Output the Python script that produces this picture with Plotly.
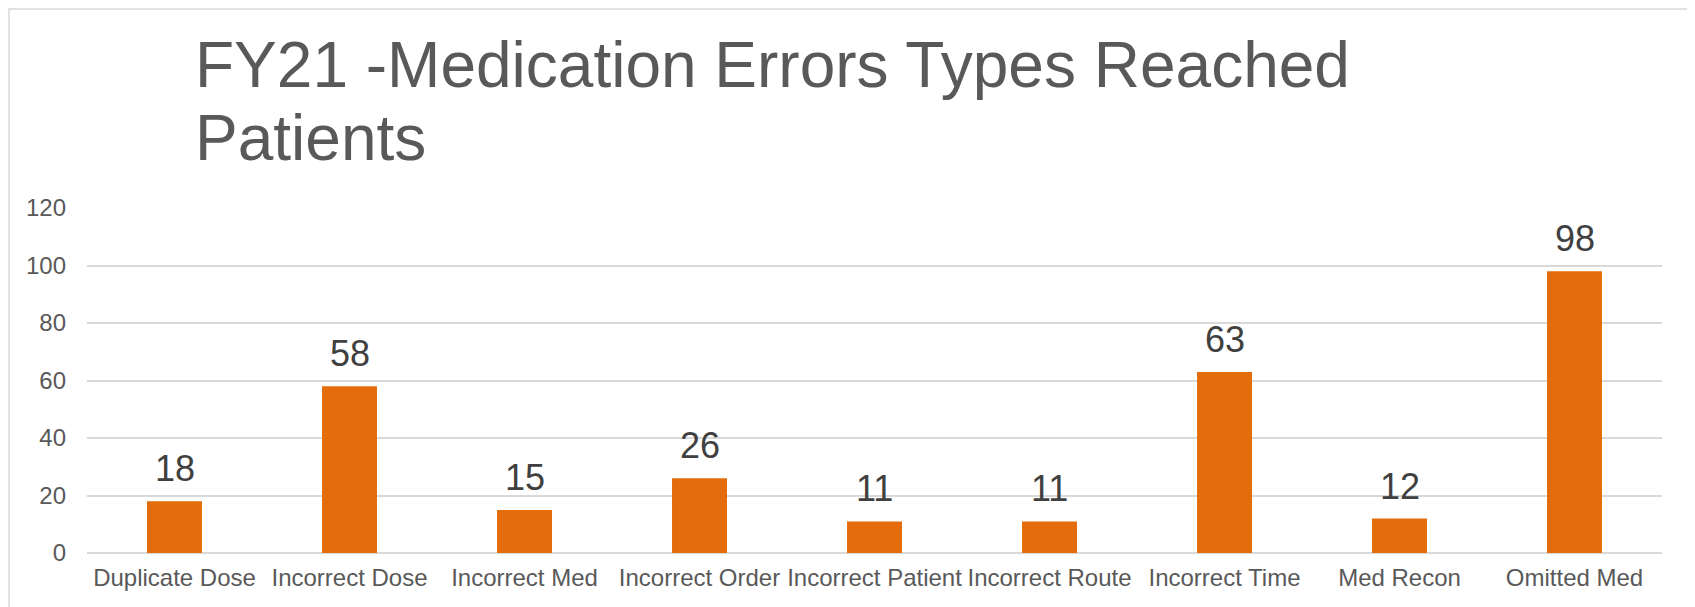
import plotly.graph_objects as go

categories = ["Duplicate Dose", "Incorrect Dose", "Incorrect Med", "Incorrect Order",
              "Incorrect Patient", "Incorrect Route", "Incorrect Time", "Med Recon", "Omitted Med"]
values = [18, 58, 15, 26, 11, 11, 63, 12, 98]
y_ticks = [0, 20, 40, 60, 80, 100, 120]
title_lines = ["FY21 -Medication Errors Types Reached", "Patients"]

FONT = "Liberation Sans, Arial, sans-serif"
OFF = 8  # page body margin
W, H = 1695 - OFF, 607 - OFF
ML, MR, MT, MB = 87 - OFF, 33, 208 - OFF, 54
PW = W - ML - MR
PH = H - MT - MB

def px_x(x):
    # reference page pixel -> paper fraction
    return (x - OFF - ML) / PW

def px_y(y):
    return (H - MB - (y - OFF)) / PH

fig = go.Figure()
fig.add_trace(go.Bar(
    x=categories, y=values,
    marker=dict(color="#E46C0A", line=dict(width=0)),
    width=0.314,
    hoverinfo="x+y",
))

annotations = []
for c, v in zip(categories, values):
    annotations.append(dict(
        x=c, y=v, xref="x", yref="y", text=str(v), showarrow=False,
        yanchor="bottom", xanchor="center", yshift=10,
        font=dict(family=FONT, size=36, color="#404040"),
    ))

title_baselines = [87, 160]
TS = 64
for line, base in zip(title_lines, title_baselines):
    center = base - 0.3465 * TS
    annotations.append(dict(
        x=px_x(193), y=px_y(center), xref="paper", yref="paper",
        text=line, showarrow=False, xanchor="left", yanchor="middle",
        font=dict(family=FONT, size=TS, color="#595959"),
    ))

fig.update_layout(
    width=W, height=H, autosize=False,
    margin=dict(l=ML, r=MR, t=MT, b=MB, pad=0),
    paper_bgcolor="white", plot_bgcolor="white",
    showlegend=False,
    annotations=annotations,
    shapes=[dict(
        type="rect", xref="paper", yref="paper",
        x0=px_x(9), x1=px_x(1689), y0=px_y(9), y1=px_y(640),
        line=dict(color="#D9D9D9", width=1.5), fillcolor="rgba(0,0,0,0)", layer="below",
    )],
    xaxis=dict(
        tickfont=dict(family=FONT, size=24, color="#595959"),
        tickangle=0, showgrid=False, showline=False, ticks="",
        ticklabelstandoff=8,
    ),
    yaxis=dict(
        range=[0, 120], tickvals=y_ticks, ticktext=[str(t) for t in y_ticks],
        tickfont=dict(family=FONT, size=24, color="#595959"),
        showgrid=True, gridcolor="#D9D9D9", gridwidth=1.5,
        zeroline=True, zerolinecolor="#D9D9D9", zerolinewidth=1.5,
        showline=False, ticks="", ticklabelstandoff=20,
    ),
)

fig.write_html("out.html")
